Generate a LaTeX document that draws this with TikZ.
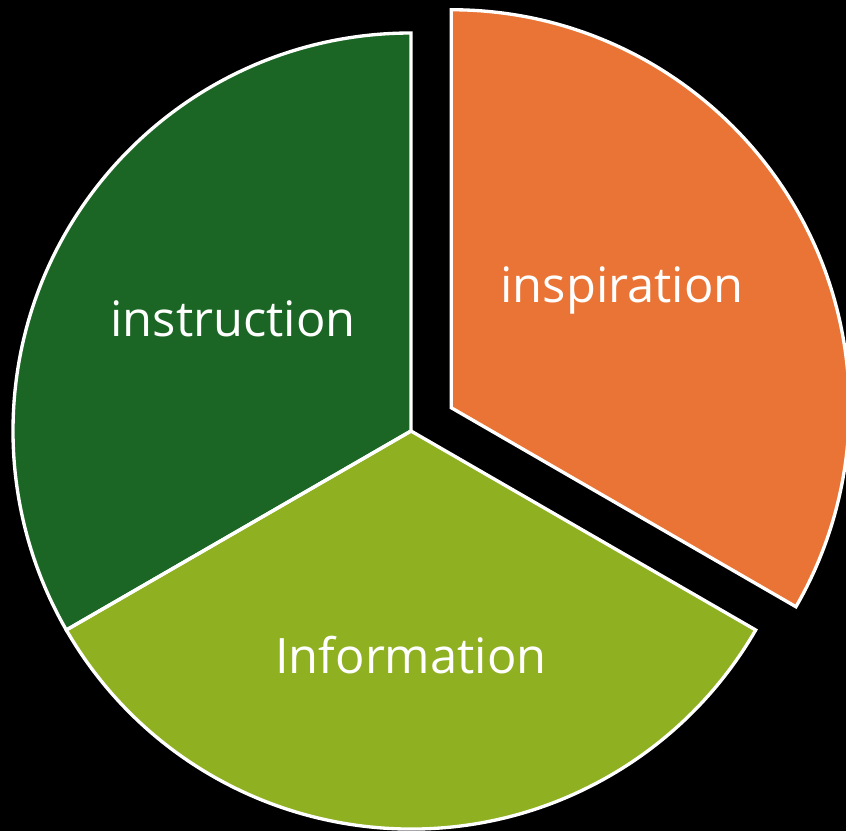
\documentclass[tikz,border=0pt]{standalone}
\usepackage{fontspec}
\setmainfont{Open Sans}
\usepackage{tikz}
\usetikzlibrary{calc}
\definecolor{verdeosc}{HTML}{1B6624}
\definecolor{verdecla}{HTML}{8FB021}
\definecolor{naranja}{HTML}{E97435}

\begin{document}
\begin{tikzpicture}[
    sector/.style={draw=white, line width=0.95pt, line join=miter},
    etiqueta/.style={text=white, font=\fontsize{13.9}{16}\selectfont, anchor=base}]
  % Fondo
  \useasboundingbox[fill=black] (0,0) rectangle (8.46,8.31);
  \coordinate (centro) at (4.11,4.00);
  \coordinate (centroex) at ($(centro)+(30:0.465)$);

  % Sectores
  \fill[verdeosc] (centro) -- ++(90:3.98) arc (90:210:3.98) -- cycle;
  \fill[verdecla] (centro) -- ++(210:3.98) arc (210:330:3.98) -- cycle;
  \fill[naranja] (centroex) -- ++(90:3.98) arc (90:-30:3.98) -- cycle;
  \draw[sector] (centro) -- ++(90:3.98) arc (90:210:3.98) -- cycle;
  \draw[sector] (centro) -- ++(210:3.98) arc (210:330:3.98) -- cycle;
  \draw[sector] (centroex) -- ++(90:3.98) arc (90:-30:3.98) -- cycle;

  % Etiquetas
  \node[etiqueta] (instruccion) at (2.33,4.94) {instruction};
  \node[etiqueta] (inspiracion) at (6.22,5.29) {inspiration};
  \node[etiqueta] (informacion) at (4.11,1.58) {Information};
\end{tikzpicture}
\end{document}
